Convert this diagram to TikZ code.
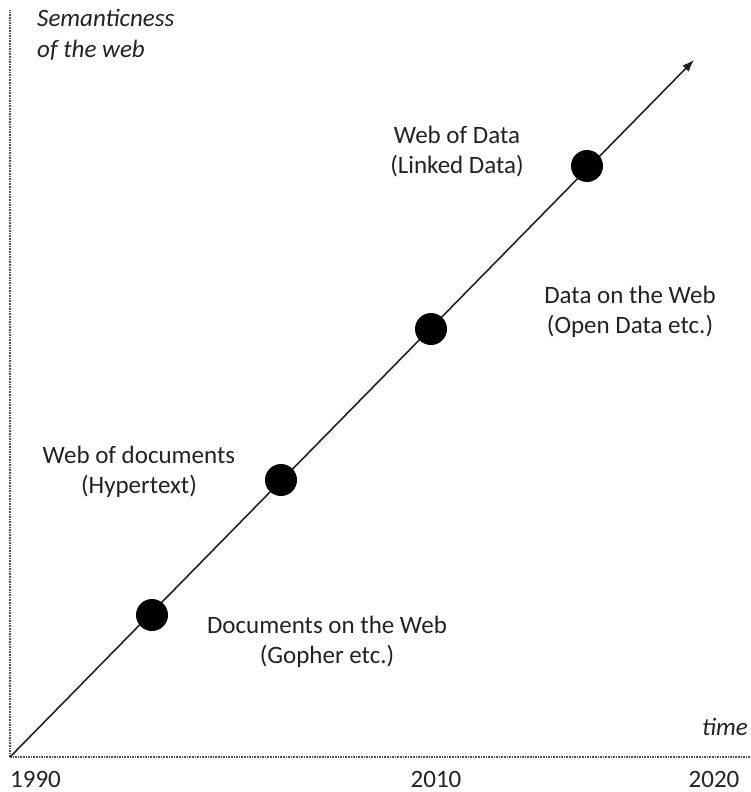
\documentclass[tikz,border=0pt]{standalone}
\usepackage{fontspec}
\setmainfont{Carlito}
\usetikzlibrary{arrows.meta,calc}
\definecolor{ink}{HTML}{222222}
\definecolor{axisgray}{HTML}{505050}
\begin{document}
\begin{tikzpicture}[x=1pt,y=-1pt,
  axis/.style={draw=axisgray, line width=1.1pt, dash pattern=on 1.6pt off 1pt},
  trend/.style={draw=ink, line width=1.6pt, -{Latex[length=12pt,width=9pt]}},
  milestone/.style={circle, fill=black, minimum size=32pt, inner sep=0pt},
  label/.style={text=ink, align=center, font=\fontsize{25}{30}\selectfont, inner sep=0pt, anchor=base},
  axislabel/.style={text=ink, font=\fontsize{25}{30}\selectfont\itshape, inner sep=0pt, align=left},
  yearlabel/.style={text=ink, font=\fontsize{25}{30}\selectfont, inner sep=0pt, text depth=0pt}]
\useasboundingbox (0,0) rectangle (750,792);

% axes
\coordinate (O) at (10,757);
\coordinate (ytop) at (10,10);
\coordinate (xend) at (750,757);
\coordinate (tip) at (694,60);
\draw[axis] (O) -- (ytop);
\draw[axis] (O) -- (xend);

% growth line
\draw[trend] (O) -- (tip);

% milestones on the line
\node[milestone] (m1) at (152,615) {};
\node[milestone] (m2) at (281,480) {};
\node[milestone] (m3) at (431,329) {};
\node[milestone] (m4) at (587,166) {};

% milestone labels (anchored on the baseline of the second line)
\node[label] (l1) at (327,663) {Documents on the Web\\(Gopher etc.)};
\node[label] (l2) at (139,493) {Web of documents\\(Hypertext)};
\node[label] (l3) at (630,333) {Data on the Web\\(Open Data etc.)};
\node[label] (l4) at (457,173) {Web of Data\\(Linked Data)};

% axis titles
\node[axislabel, anchor=base west] (ylab) at (37,57) {Semanticness\\of the web};
\node[axislabel, anchor=base east] (xlab) at (748,735) {time};

% years
\node[yearlabel, anchor=base west] (y1990) at (10,787) {1990};
\node[yearlabel, anchor=base] (y2010) at (436,787) {2010};
\node[yearlabel, anchor=base] (y2020) at (714,787) {2020};
\end{tikzpicture}
\end{document}
